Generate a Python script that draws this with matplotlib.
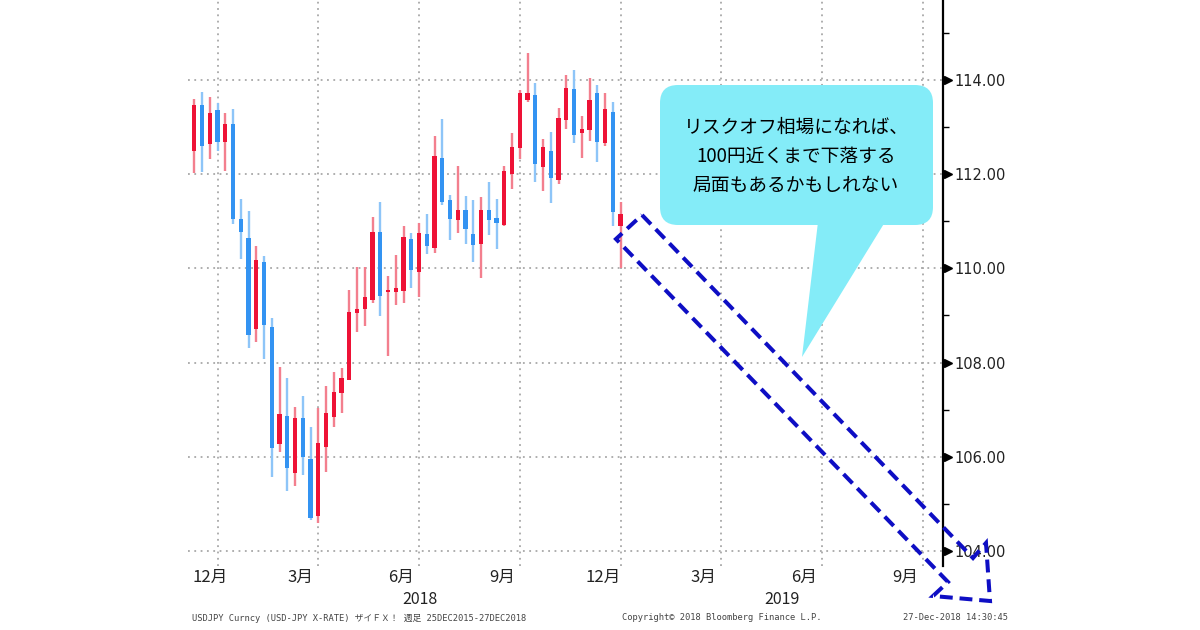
import matplotlib
matplotlib.use("Agg")
import matplotlib.pyplot as plt
from matplotlib.patches import Polygon, FancyBboxPatch
from matplotlib.transforms import Affine2D
from matplotlib.ticker import FixedLocator, FuncFormatter

plt.rcParams['font.family'] = ['Noto Sans CJK JP', 'DejaVu Sans']

# -------------------------------
# DATA  (weekly USD/JPY candles)
# -------------------------------
opens = [112.50, 113.47, 112.64, 113.36, 112.69, 113.06, 111.05, 110.64, 108.71, 110.14,
         108.76, 106.27, 106.87, 105.65, 106.82, 105.95, 104.74, 106.21, 106.85, 107.36,
         107.63, 109.05, 109.13, 109.33, 110.78, 109.49, 109.49, 109.51, 110.62, 109.93,
         110.72, 110.43, 112.35, 111.45, 111.03, 111.25, 110.73, 110.52, 111.25, 111.06,
         110.92, 112.00, 112.55, 113.58, 113.68, 112.16, 112.50, 111.88, 113.15, 113.80,
         112.87, 112.94, 113.72, 112.66, 113.33, 110.90]
highs = [113.59, 113.75, 113.65, 113.52, 113.31, 113.38, 111.47, 111.22, 110.48, 110.26,
         108.95, 107.90, 107.68, 107.06, 107.28, 106.64, 107.03, 107.50, 107.79, 107.88,
         109.54, 110.04, 110.04, 111.10, 111.40, 109.84, 110.28, 110.90, 110.76, 110.97,
         111.15, 112.81, 113.17, 111.56, 112.17, 111.54, 111.45, 111.51, 111.84, 111.47,
         112.17, 112.87, 113.79, 114.57, 113.94, 112.74, 112.90, 113.40, 114.11, 114.21,
         113.24, 114.04, 113.89, 113.73, 113.54, 111.42]
lows = [112.02, 112.05, 112.32, 112.50, 112.07, 110.94, 110.21, 108.30, 108.44, 108.08,
        105.58, 106.11, 105.28, 105.37, 105.61, 104.66, 104.59, 105.68, 106.64, 106.92,
        107.63, 108.66, 108.78, 109.26, 108.99, 108.14, 109.22, 109.26, 109.58, 109.39,
        110.31, 110.32, 111.35, 110.60, 110.76, 110.52, 110.14, 109.79, 110.71, 110.41,
        110.89, 111.68, 112.32, 113.54, 111.84, 111.65, 111.39, 111.79, 112.95, 112.66,
        112.34, 112.71, 112.27, 112.60, 110.89, 110.00]
closes = [113.47, 112.60, 113.31, 112.69, 113.06, 111.04, 110.78, 108.59, 110.18, 108.80,
          106.19, 106.91, 105.76, 106.82, 106.00, 104.69, 106.29, 106.92, 107.37, 107.68,
          109.07, 109.13, 109.40, 110.78, 109.41, 109.54, 109.58, 110.67, 109.97, 110.76,
          110.48, 112.39, 111.40, 111.04, 111.25, 110.83, 110.50, 111.25, 111.03, 110.97,
          112.07, 112.58, 113.72, 113.73, 112.22, 112.57, 111.91, 113.20, 113.84, 112.83,
          112.97, 113.58, 112.69, 113.38, 111.20, 111.15]

month_pos = [3, 16, 29, 42, 55, 68, 81, 94]
month_labels = ["12月", "3月", "6月", "9月", "12月", "3月", "6月", "9月"]
year_pos = [29.1, 75.8]
year_labels = ["2018", "2019"]
y_major = [104, 106, 108, 110, 112, 114]
y_minor = [103, 105, 107, 109, 111, 113, 115]

callout_lines = ["リスクオフ相場になれば、", "100円近くまで下落する", "局面もあるかもしれない"]
footer_left = "USDJPY Curncy (USD-JPY X-RATE) ザイＦＸ！ 週足 25DEC2015-27DEC2018"
footer_mid = "Copyright© 2018 Bloomberg Finance L.P."
footer_right = "27-Dec-2018 14:30:45"

# -------------------------------
# FIGURE
# -------------------------------
W, H = 1200, 630
fig = plt.figure(figsize=(W / 100, H / 100), dpi=100)
fig.patch.set_facecolor("white")
ax = fig.add_axes([188 / W, 1 - 566 / H, (943 - 188) / W, 566 / H])

# pixel coordinates (origin top-left) for the hand-drawn overlay
px = Affine2D().scale(1 / W, -1 / H).translate(0, 1) + fig.transFigure

RED, BLUE = "#ee1236", "#3393f2"
RED_W, BLUE_W = "#f37f8e", "#8ec5f8"

x = list(range(len(opens)))
up = [c >= o for o, c in zip(opens, closes)]
body_col = [RED if u else BLUE for u in up]
wick_col = [RED_W if u else BLUE_W for u in up]
bottoms = [min(o, c) for o, c in zip(opens, closes)]
heights = [max(abs(c - o), 0.05) for o, c in zip(opens, closes)]

ax.vlines(x, lows, highs, colors=wick_col, linewidth=1.7, zorder=3)
ax.bar(x, heights, bottom=bottoms, width=0.54, color=body_col, linewidth=0, zorder=4)

ax.set_xlim(-0.81, 96.6)
ax.set_ylim(103.68, 115.70)

# grid
ax.xaxis.set_major_locator(FixedLocator(month_pos))
ax.yaxis.set_major_locator(FixedLocator(y_major))
ax.yaxis.set_minor_locator(FixedLocator(y_minor))
ax.grid(True, which="major", color="#a8a8a8", linestyle=(0, (1, 2.5)), linewidth=1.3, zorder=0)
ax.set_axisbelow(True)
ax.tick_params(axis="x", length=0, labelbottom=False)

# right axis only
for s in ["left", "top", "bottom"]:
    ax.spines[s].set_visible(False)
ax.spines["right"].set_color("black")
ax.spines["right"].set_linewidth(1.6)
ax.yaxis.tick_right()
ax.yaxis.set_major_formatter(FuncFormatter(lambda v, p: f"{v:.2f}"))
ax.tick_params(axis="y", which="major", length=0, pad=8, labelsize=10.5, labelcolor="#222222")
ax.tick_params(axis="y", which="minor", direction="out", length=4, width=1, color="black")
for lab in ax.get_yticklabels():
    lab.set_fontfamily("DejaVu Sans")
ax.plot([1.006] * len(y_major), y_major, ls="none", marker=">", ms=6, color="black",
        transform=ax.get_yaxis_transform(), clip_on=False, zorder=5)

# month / year labels
xtr = ax.get_xaxis_transform()
for p, lab in zip(month_pos, month_labels):
    ax.text(max(p - 2.3, 2.0), -0.021, lab, transform=xtr, ha="center", va="center",
            fontsize=12, color="#222222")
for p, lab in zip(year_pos, year_labels):
    ax.text(p, -0.060, lab, transform=xtr, ha="center", va="center",
            fontsize=11.5, color="#222222")

# footer
mono = ["DejaVu Sans Mono", "Noto Sans CJK JP"]
fig.text(192, 618, footer_left, transform=px, ha="left", va="center", fontsize=6.3,
         color="#444444", family=mono)
fig.text(622, 618, footer_mid, transform=px, ha="left", va="center", fontsize=6.3,
         color="#444444", family=mono)
fig.text(1008, 618, footer_right, transform=px, ha="right", va="center", fontsize=6.3,
         color="#444444", family=mono)

# callout bubble
CYAN = "#84ecf8"
fig.add_artist(FancyBboxPatch((660, 85), 273, 140, boxstyle="round,pad=0,rounding_size=18",
                              transform=px, facecolor=CYAN, edgecolor="none", zorder=6))
fig.add_artist(Polygon([(818, 222), (885, 222), (802, 357)], closed=True, transform=px,
                       facecolor=CYAN, edgecolor="none", zorder=6))
for i, line in enumerate(callout_lines):
    fig.text(796, 127 + 29 * i, line, transform=px, ha="center", va="center",
             fontsize=13.5, color="black", zorder=7)

# dashed block arrow pointing down-right
arrow_px = [(642, 215), (973, 558), (986, 543), (990, 601), (933, 596), (948, 582), (616, 239)]
fig.add_artist(Polygon(arrow_px, closed=True, transform=px, fill=False,
                       edgecolor="#0e0ec4", linewidth=2.9, linestyle=(0, (3.2, 1.7)),
                       joinstyle="miter", zorder=8))

plt.savefig("out.png", dpi=100, facecolor="white")
